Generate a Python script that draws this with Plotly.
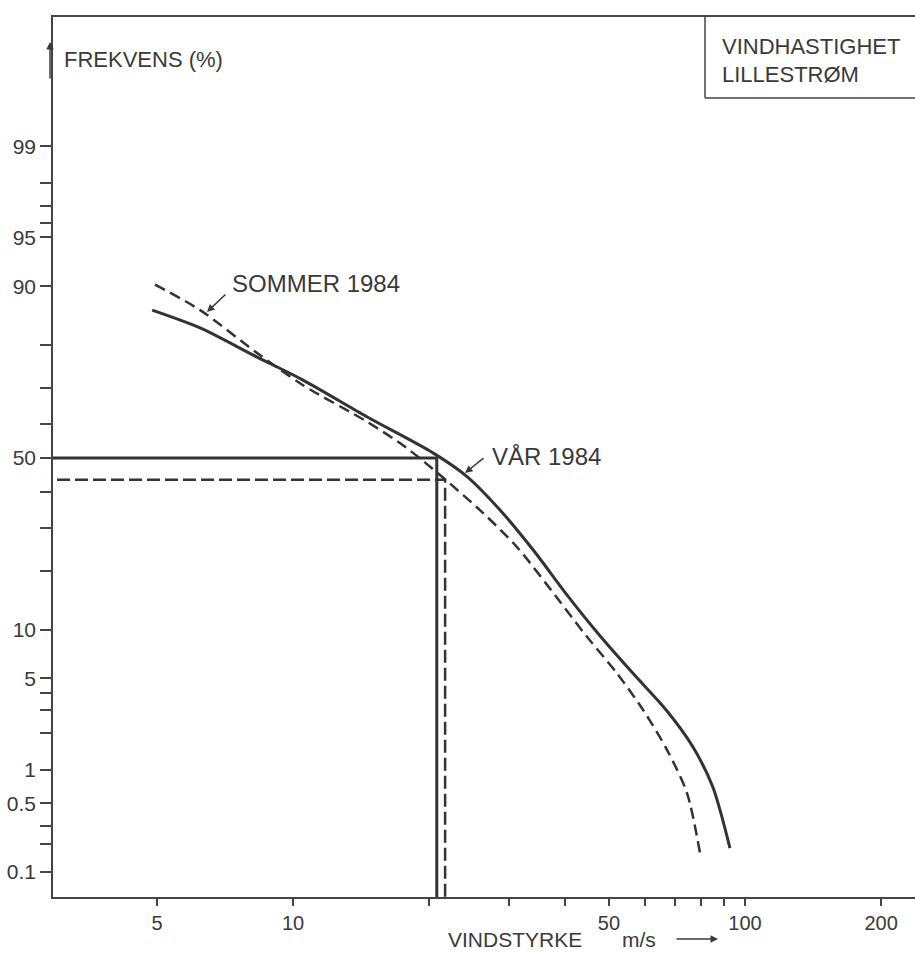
from statistics import NormalDist
import plotly.graph_objects as go

# ---------------- data ----------------
# VÅR 1984 (solid curve): wind speed (m/s) vs frequency (%)
var_speed = [4.88, 6.23, 8.33, 10.5, 14.6, 20.4, 24.3, 28.7, 34.0, 40.4, 47.8, 56.5, 67.2, 76.7, 84.9, 92.6]
var_freq = [86.5, 83.4, 77.4, 72.0, 62.0, 51.5, 44.4, 34.9, 24.6, 15.3, 9.2, 5.4, 2.95, 1.55, 0.70, 0.18]

# SOMMER 1984 (dashed curve)
sommer_speed = [4.95, 6.23, 8.33, 10.5, 14.6, 17.7, 21.5, 26.3, 31.3, 38.4, 44.7, 52.1, 59.5, 67.2, 74.4, 79.5]
sommer_freq = [90.2, 86.5, 78.3, 70.7, 60.6, 53.3, 44.1, 34.1, 25.3, 14.8, 9.1, 5.4, 3.0, 1.47, 0.62, 0.16]

# reading-off guide lines (speed, frequency)
var_guide = (20.8, 50.0)
sommer_guide = (21.7, 43.5)

# axis ticks
y_major = [0.1, 0.5, 1, 5, 10, 50, 90, 95, 99]
y_major_text = ["0.1", "0.5", "1", "5", "10", "50", "90", "95", "99"]
y_minor = [0.2, 0.3, 2, 3, 4, 20, 30, 40, 60, 70, 80, 96, 97, 98]
x_major = [5, 10, 50, 100, 200]
x_major_text = ["5", "10", "50", "100", "200"]
x_minor = [20, 30, 40, 60, 70, 80, 90]

# ---------------- helpers ----------------
nd = NormalDist()


def probit(p):
    return nd.inv_cdf(p / 100.0)


W, H = 915, 953
L, T, B, R = 53, 17, 56, 0
PW = W - L - R
PH = H - T - B


def px(x):
    return (x - L) / PW


def py(y):
    return (H - B - y) / PH


INK = "#3a3a3a"
LINE = "#333333"
FONT = "Liberation Sans, Arial, sans-serif"

fig = go.Figure()

# curves
fig.add_trace(go.Scatter(
    x=var_speed, y=[probit(v) for v in var_freq], mode="lines",
    line=dict(color=LINE, width=3, shape="spline", smoothing=0.8),
    name="VÅR 1984", hoverinfo="skip"))
fig.add_trace(go.Scatter(
    x=sommer_speed, y=[probit(v) for v in sommer_freq], mode="lines",
    line=dict(color=LINE, width=2.5, dash="11px,6px", shape="spline", smoothing=0.8),
    name="SOMMER 1984", hoverinfo="skip"))

# guide lines (from axis to the curve and down to the axis)
fig.add_trace(go.Scatter(
    x=[1, var_guide[0], var_guide[0]],
    y=[probit(var_guide[1]), probit(var_guide[1]), probit(0.001)],
    mode="lines", line=dict(color=LINE, width=3), hoverinfo="skip"))
fig.add_trace(go.Scatter(
    x=[1, sommer_guide[0], sommer_guide[0]],
    y=[probit(sommer_guide[1]), probit(sommer_guide[1]), probit(0.001)],
    mode="lines", line=dict(color=LINE, width=2.5, dash="13px,5px"), hoverinfo="skip"))

axis_common = dict(
    showline=True, linecolor="#444444", linewidth=1.5,
    ticks="outside", tickcolor="#444444", tickwidth=1.5,
    showgrid=False, zeroline=False,
)

fig.update_xaxes(
    type="log", range=[0.469, 2.376], mirror=True,
    tickmode="array", tickvals=x_major, ticktext=x_major_text, ticklen=7,
    tickfont=dict(family=FONT, size=20, color=INK),
    minor=dict(tickmode="array", tickvals=x_minor, ticks="outside", ticklen=7,
               tickcolor="#444444", tickwidth=1.5, showgrid=False),
    **axis_common)
fig.update_yaxes(
    range=[-3.276, 3.29],
    tickmode="array", tickvals=[probit(v) for v in y_major], ticktext=y_major_text, ticklen=11,
    tickfont=dict(family=FONT, size=21, color=INK),
    minor=dict(tickmode="array", tickvals=[probit(v) for v in y_minor], ticks="outside", ticklen=11,
               tickcolor="#444444", tickwidth=1.5, showgrid=False),
    **axis_common)

annotations = []


def text(t, x, y, size, xanchor="left"):
    annotations.append(dict(text=t, x=px(x), y=py(y), xref="paper", yref="paper",
                            xanchor=xanchor, yanchor="middle", showarrow=False,
                            font=dict(family=FONT, size=size, color=INK)))


def arrow(x_tip, y_tip, x_tail, y_tail, width=1.5):
    annotations.append(dict(text="", x=px(x_tip), y=py(y_tip), xref="paper", yref="paper",
                            ax=x_tail - x_tip, ay=y_tail - y_tip, axref="pixel", ayref="pixel",
                            showarrow=True, arrowhead=2, arrowsize=1, arrowwidth=width,
                            arrowcolor=INK))


text("FREKVENS (%)", 62, 59, 22)
text("VINDHASTIGHET", 720, 47, 22)
text("LILLESTRØM", 720, 74, 22)
text("SOMMER 1984", 230, 283, 24)
text("VÅR 1984", 490, 456, 24)
text("VINDSTYRKE", 446, 939, 21)
text("m/s", 620, 939, 21)

arrow(207, 312, 227, 293)       # SOMMER pointer
arrow(465, 473, 485, 457)       # VÅR pointer
arrow(718, 939, 675, 939, 1.5)  # x-axis direction arrow
arrow(50, 42, 50, 80, 1.5)      # y-axis arrow

fig.update_layout(
    width=W, height=H,
    margin=dict(l=L, r=R, t=T, b=B),
    paper_bgcolor="white", plot_bgcolor="white",
    showlegend=False,
    annotations=annotations,
    shapes=[
        dict(type="line", xref="paper", yref="paper", x0=px(705), x1=px(705), y0=1, y1=py(98),
             line=dict(color="#444444", width=1.5)),
        dict(type="line", xref="paper", yref="paper", x0=px(705), x1=1, y0=py(98), y1=py(98),
             line=dict(color="#444444", width=1.5)),
    ],
)

fig.write_html("out.html")
